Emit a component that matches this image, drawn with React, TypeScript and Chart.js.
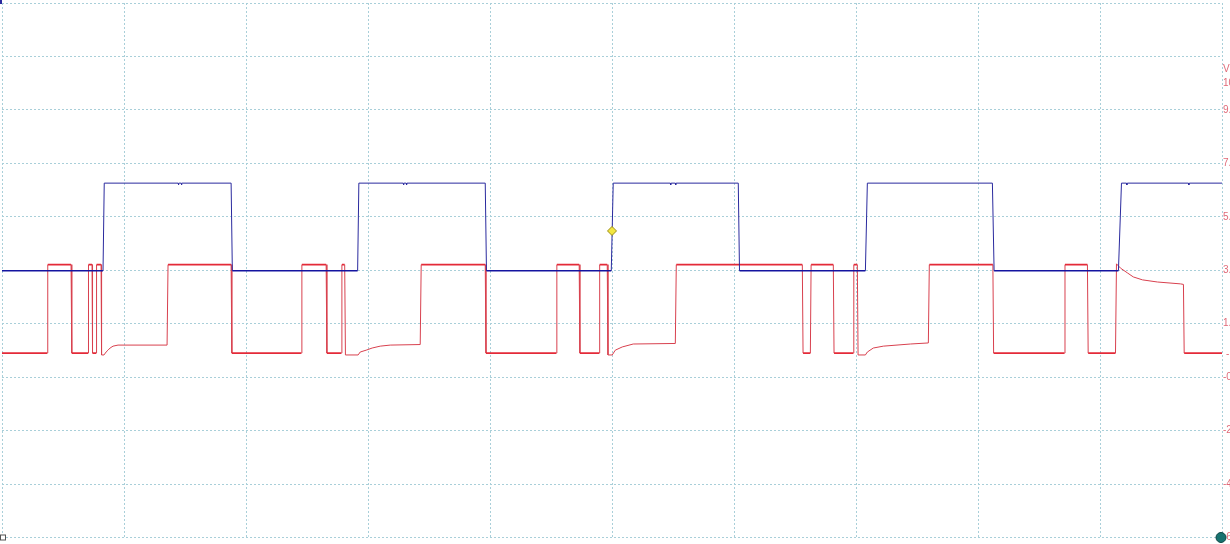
import { useEffect, useRef } from 'react';
import { Chart, registerables } from 'chart.js';

Chart.register(...registerables);

// Levels (V, read against the red channel's right-hand scale)
const RED_HIGH = 3.41;
const RED_LOW = 0.1;
const RED_DIP = 0.03;
const BLUE_HIGH = 6.46;
const BLUE_LOW = 3.18;
const BLUE_GLITCH = 6.39;

// Time in µs (100 µs / div, 10 divisions)
const X_MIN = 0;
const X_MAX = 1000;
const X_STEP = 100;

// Right-hand scale
const Y_TICK_VALUES = [-6.8, -4.8, -2.8, -0.8, 1.2, 3.2, 5.2, 7.2, 9.2, 11.2, 13.2];
const Y_TICK_LABELS = ['-6.80', '-4.80', '-2.80', '-0.80', '1.20', '3.20', '5.20', '7.20', '9.20', '', ''];
const SIDE_TEXT = ['V', '10.2', '-'];
const SIDE_VALUE = [10.73, 10.2, 0.05];
const SIDE_DX = [1, 1, 4];

// Trigger marker
const TRIGGER: [number, number][] = [[500.0, 4.67]];

// Channel 1 (blue)
const CH1_TRACE: [number, number][] = [
  [0, BLUE_LOW], [82.8, BLUE_LOW], [83.8, BLUE_HIGH],
  [144.3, BLUE_HIGH], [144.6, BLUE_GLITCH], [145.0, BLUE_HIGH],
  [146.8, BLUE_HIGH], [147.1, BLUE_GLITCH], [147.5, BLUE_HIGH],
  [187.8, BLUE_HIGH], [188.8, BLUE_LOW],
  [291.5, BLUE_LOW], [292.5, BLUE_HIGH],
  [328.8, BLUE_HIGH], [329.1, BLUE_GLITCH], [329.5, BLUE_HIGH],
  [331.3, BLUE_HIGH], [331.6, BLUE_GLITCH], [332.0, BLUE_HIGH],
  [396.1, BLUE_HIGH], [397.1, BLUE_LOW],
  [499.4, BLUE_LOW], [501.0, BLUE_HIGH],
  [547.8, BLUE_HIGH], [548.1, BLUE_GLITCH], [548.5, BLUE_HIGH],
  [551.9, BLUE_HIGH], [552.2, BLUE_GLITCH], [552.6, BLUE_HIGH],
  [603.5, BLUE_HIGH], [604.5, BLUE_LOW],
  [707.7, BLUE_LOW], [709.3, BLUE_HIGH],
  [811.8, BLUE_HIGH], [813.2, BLUE_LOW],
  [915.1, BLUE_LOW], [917.6, BLUE_HIGH],
  [921.7, BLUE_HIGH], [922.0, BLUE_GLITCH], [922.4, BLUE_HIGH],
  [972.5, BLUE_HIGH], [972.8, BLUE_GLITCH], [973.2, BLUE_HIGH],
  [1000, BLUE_HIGH],
];

// Channel 2 (red)
const CH2_TRACE: [number, number][] = [
  [0, RED_LOW], [36.9, RED_LOW], [37.5, RED_HIGH], [56.6, RED_HIGH], [57.2, RED_LOW],
  [70.5, RED_LOW], [70.9, RED_HIGH], [73.8, RED_HIGH], [74.2, RED_LOW],
  [77.1, RED_LOW], [77.5, RED_HIGH], [81.2, RED_HIGH], [81.6, RED_DIP], [83.6, RED_DIP],
  [85.3, 0.14], [86.9, 0.21], [88.6, 0.29], [91.0, 0.36], [95.1, 0.4], [135.3, 0.4],
  [136.1, RED_HIGH], [187.8, RED_HIGH], [188.4, RED_LOW],
  [245.2, RED_LOW], [245.8, RED_HIGH], [265.7, RED_HIGH], [266.3, RED_LOW],
  [278.0, RED_LOW], [278.6, RED_HIGH], [280.9, RED_HIGH], [281.5, RED_DIP], [291.9, RED_DIP],
  [293.6, 0.14], [298.5, 0.21], [303.4, 0.29], [310.0, 0.36], [318.2, 0.4], [342.8, 0.42],
  [343.6, RED_HIGH], [396.1, RED_HIGH], [396.7, RED_LOW],
  [454.3, RED_LOW], [454.8, RED_HIGH], [473.1, RED_HIGH], [473.7, RED_LOW],
  [489.5, RED_LOW], [489.9, RED_HIGH], [496.1, RED_HIGH], [496.7, RED_DIP], [500.2, RED_DIP],
  [502.7, 0.21], [508.4, 0.33], [517.4, 0.44], [551.9, 0.46],
  [552.7, RED_HIGH], [656.0, RED_HIGH], [656.6, RED_LOW],
  [662.6, RED_LOW], [663.2, RED_HIGH], [681.4, RED_HIGH], [682.0, RED_LOW],
  [697.8, RED_LOW], [698.2, RED_HIGH], [701.1, RED_HIGH], [701.7, RED_DIP], [707.7, RED_DIP],
  [709.3, 0.14], [714.2, 0.29], [722.4, 0.36], [744.6, 0.44], [759.3, 0.48],
  [760.1, RED_HIGH], [812.2, RED_HIGH], [812.8, RED_LOW],
  [870.8, RED_LOW], [871.3, RED_HIGH], [889.7, RED_HIGH], [890.3, RED_LOW],
  [912.7, RED_LOW], [913.5, 3.44], [916.8, 3.28], [922.5, 3.1], [927.3, 2.95],
  [934.8, 2.84], [947.1, 2.76], [966.0, 2.69], [968.4, 2.67], [969.0, RED_LOW],
  [1000, RED_LOW],
];

const GRID_COLOR = '#a9cfd9';
const LABEL_COLOR = '#e06a78';
const BLUE_COLOR = '#2a2a9e';
const BLUE_DOTS = '#1414a0';
const RED_COLOR = '#d8404e';
const RED_NOISE = '#e42a38';
const LABEL_FONT = { family: '"Liberation Sans", "DejaVu Sans", sans-serif', size: 10 };

const toXY = (pts: [number, number][]) => pts.map(([x, y]) => ({ x, y }));

const isNoisyRed = (c: any) =>
  c.p0.parsed.y === c.p1.parsed.y && (c.p0.parsed.y === RED_HIGH || c.p0.parsed.y === RED_LOW);
const isBlueLow = (c: any) => c.p0.parsed.y === BLUE_LOW && c.p1.parsed.y === BLUE_LOW;

const decorPlugin = {
  id: 'scopeDecor',
  afterDraw(chart: any) {
    const { ctx, chartArea, scales } = chart;
    const ys = scales.y;
    ctx.save();
    ctx.fillStyle = LABEL_COLOR;
    ctx.font = `${LABEL_FONT.size}px ${LABEL_FONT.family}`;
    ctx.textAlign = 'left';
    ctx.textBaseline = 'middle';
    SIDE_TEXT.forEach((t, i) => {
      ctx.fillText(t, chartArea.right + SIDE_DX[i], ys.getPixelForValue(SIDE_VALUE[i]));
    });
    // channel ground marker (teal) at bottom right
    ctx.beginPath();
    ctx.arc(chartArea.right - 1, chartArea.bottom, 5, 0, Math.PI * 2);
    ctx.fillStyle = '#177370';
    ctx.fill();
    ctx.lineWidth = 1;
    ctx.strokeStyle = '#0c4644';
    ctx.stroke();
    // bottom-left small square
    ctx.fillStyle = '#ffffff';
    ctx.fillRect(0.5, chartArea.bottom - 2.5, 5, 5);
    ctx.strokeStyle = '#555555';
    ctx.strokeRect(0.5, chartArea.bottom - 2.5, 5, 5);
    // top-left blue mark
    ctx.fillStyle = BLUE_COLOR;
    ctx.fillRect(0, 0, 2, 4);
    ctx.restore();
  },
};

export default function App() {
  const ref = useRef<HTMLCanvasElement>(null);

  useEffect(() => {
    if (!ref.current) return;
    const chart = new Chart(ref.current, {
      type: 'line',
      data: {
        datasets: [
          {
            label: 'Trigger',
            data: toXY(TRIGGER),
            showLine: false,
            pointStyle: 'rectRot',
            pointRadius: 4.5,
            pointBackgroundColor: '#f2e640',
            pointBorderColor: '#9c8c14',
            pointBorderWidth: 1,
            clip: false,
          } as any,
          {
            label: 'CH1',
            data: toXY(CH1_TRACE),
            borderColor: BLUE_COLOR,
            borderWidth: 1,
            pointRadius: 0,
            tension: 0,
            segment: {
              borderWidth: (c: any) => (isBlueLow(c) ? 1.6 : 1),
              borderColor: (c: any) => (isBlueLow(c) ? BLUE_DOTS : BLUE_COLOR),
            },
          } as any,
          {
            label: 'CH2',
            data: toXY(CH2_TRACE),
            borderColor: RED_COLOR,
            borderWidth: 1,
            pointRadius: 0,
            tension: 0,
            segment: {
              borderWidth: (c: any) => (isNoisyRed(c) ? 1.7 : 1),
              borderColor: (c: any) => (isNoisyRed(c) ? RED_NOISE : RED_COLOR),
            },
          } as any,
        ],
      },
      options: {
        animation: false,
        responsive: false,
        devicePixelRatio: 1,
        layout: { autoPadding: false, padding: { left: 2, top: 3, right: 0, bottom: 0 } },
        plugins: { legend: { display: false }, tooltip: { enabled: false } },
        scales: {
          x: {
            type: 'linear',
            min: X_MIN,
            max: X_MAX,
            ticks: { display: false, stepSize: X_STEP },
            grid: { color: GRID_COLOR, lineWidth: 1, drawTicks: false },
            border: { display: false, dash: [2, 2] },
            afterFit: (s: any) => {
              s.height = 6.5;
              s.paddingLeft = 0;
              s.paddingRight = 0;
            },
          },
          y: {
            type: 'linear',
            position: 'right',
            min: Y_TICK_VALUES[0],
            max: Y_TICK_VALUES[Y_TICK_VALUES.length - 1],
            afterBuildTicks: (s: any) => {
              s.ticks = Y_TICK_VALUES.map((v) => ({ value: v }));
            },
            ticks: {
              color: LABEL_COLOR,
              font: LABEL_FONT,
              padding: 1,
              callback: (_v: any, i: number) => Y_TICK_LABELS[i],
            },
            grid: { color: GRID_COLOR, lineWidth: 1, drawTicks: false },
            border: { display: false, dash: [2, 2] },
            afterFit: (s: any) => {
              s.width = 38;
              s.paddingTop = 0;
              s.paddingBottom = 0;
            },
          },
        },
      } as any,
      plugins: [decorPlugin],
    });
    return () => chart.destroy();
  }, []);

  return (
    <div
      style={{
        position: 'fixed',
        left: 0,
        top: 0,
        width: 1230,
        height: 544,
        overflow: 'hidden',
        background: '#ffffff',
      }}
    >
      <canvas ref={ref} width={1260} height={544} style={{ display: 'block', width: 1260, height: 544 }} />
    </div>
  );
}
